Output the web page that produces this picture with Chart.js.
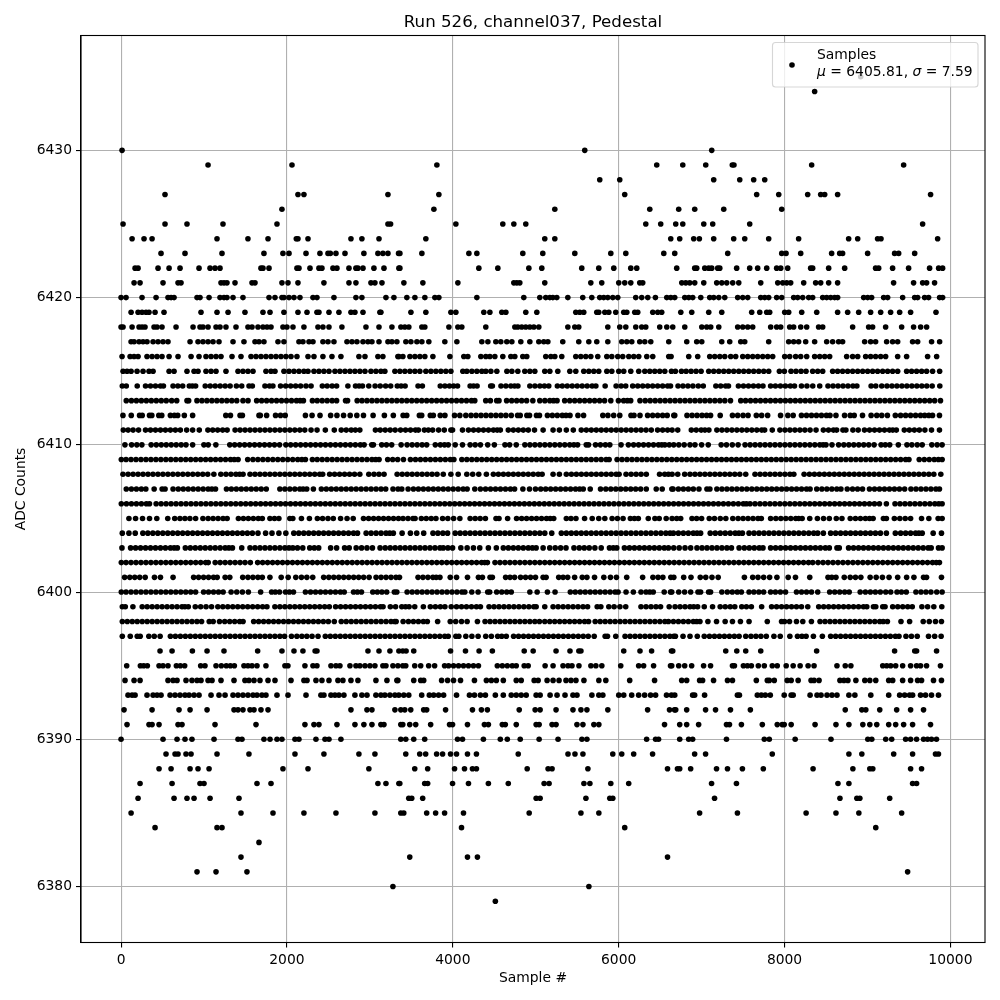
<!DOCTYPE html>
<html>
<head>
<meta charset="utf-8">
<style>
  html, body { margin: 0; padding: 0; background: #fff; }
  canvas { display: block; }
</style>
<script src="https://cdn.jsdelivr.net/npm/chart.js@4/dist/chart.umd.min.js"></script>
</head>
<body>
<canvas id="chart" width="1000" height="1000"></canvas>
<script>
// sample numbers, one list per ADC level
const s6435 = [8918];
const s6434 = [8363];
const s6430 = [12, 5591, 7122];
const s6429 = [1049, 2061, 3808, 6459, 6773, 7050, 7370, 7390, 8327, 9436];
const s6428 = [5772, 6013, 7146, 7460, 7628, 7761];
const s6427 = [530, 2133, 2205, 3218, 3832, 6073, 7664, 7930, 8279, 8436, 8484, 8640, 9761];
const s6426 = [1940, 3772, 5230, 6375, 6724, 6917, 7267, 7966];
const s6425 = [24, 530, 795, 1229, 1880, 3218, 3250, 4037, 4603, 4736, 4880, 6327, 6507, 6688, 6773, 7026, 7134, 7580, 9665];
const s6424 = [133, 277, 374, 1157, 1530, 1772, 2113, 2133, 2254, 2772, 2904, 3110, 3675, 5109, 5230, 6628, 6736, 6905, 6973, 7146, 7387, 7520, 7809, 8170, 8773, 8882, 9122, 9163, 9846];
const s6423 = [482, 771, 1217, 1723, 1952, 2025, 2230, 2398, 2495, 2523, 2591, 2700, 2928, 3097, 3157, 3218, 3346, 3362, 3627, 4194, 4290, 4844, 5085, 5471, 5905, 6086, 6544, 6676, 7315, 7966, 8018, 8195, 8568, 8665, 8700, 9002, 9327, 9376, 9569];
const s6422 = [169, 205, 446, 579, 711, 940, 1073, 1133, 1193, 1687, 1711, 1784, 2121, 2145, 2278, 2386, 2422, 2555, 2603, 2748, 2832, 2856, 2917, 3049, 3170, 3350, 3362, 4314, 4543, 4917, 5073, 5555, 5760, 5941, 6146, 6218, 6700, 6917, 6941, 7038, 7086, 7122, 7194, 7219, 7423, 7580, 7676, 7785, 7905, 7954, 8038, 8315, 8339, 8532, 8725, 9098, 9135, 9303, 9496, 9749, 9858, 9906];
const s6421 = [157, 229, 506, 687, 723, 1205, 1241, 1277, 1374, 1579, 1615, 1940, 2013, 2133, 2446, 2748, 2832, 3013, 3061, 3146, 3410, 3639, 4061, 4736, 4772, 4808, 5109, 5664, 5796, 6001, 6073, 6146, 6254, 6290, 6761, 6809, 6857, 6917, 7026, 7182, 7243, 7303, 7375, 7448, 7713, 7918, 7978, 8026, 8074, 8231, 8375, 8436, 8532, 8640, 9315, 9556, 9665, 9713, 9809];
const s6420 = [0, 60, 253, 422, 566, 603, 639, 916, 952, 1061, 1193, 1241, 1277, 1350, 1470, 1784, 1856, 1940, 1964, 2025, 2085, 2157, 2314, 2362, 2567, 2832, 2904, 3194, 3290, 3446, 3543, 3663, 3784, 3832, 4290, 4856, 5049, 5121, 5170, 5206, 5254, 5387, 5567, 5676, 5772, 5820, 5869, 5929, 5989, 6206, 6278, 6351, 6443, 6580, 6628, 6676, 6797, 6845, 6893, 6990, 7098, 7146, 7207, 7279, 7435, 7496, 7556, 7713, 7761, 7809, 7905, 7966, 8110, 8158, 8219, 8291, 8339, 8460, 8508, 8556, 8604, 8640, 8954, 9002, 9050, 9195, 9243, 9424, 9569, 9605, 9689, 9737, 9870, 9906];
const s6419 = [121, 205, 253, 301, 337, 410, 518, 964, 1157, 1290, 1494, 1711, 1796, 1964, 2133, 2242, 2362, 2386, 2507, 2627, 2772, 2820, 2917, 3121, 3133, 3495, 3675, 3977, 4037, 4374, 4447, 4591, 4640, 4880, 5013, 5483, 5531, 5579, 5736, 5760, 5833, 5881, 5965, 6061, 6098, 6194, 6230, 6411, 6471, 6519, 6749, 6881, 7086, 7243, 7604, 7701, 7785, 7821, 8002, 8050, 8207, 8388, 8640, 8761, 8894, 9038, 9159, 9279, 9388, 9520, 9826];
const s6418 = [0, 24, 133, 217, 253, 289, 398, 434, 494, 663, 868, 952, 988, 1049, 1145, 1193, 1265, 1386, 1530, 1579, 1651, 1711, 1760, 1808, 1952, 2000, 2073, 2205, 2374, 2434, 2507, 2663, 2953, 3110, 3266, 3374, 3422, 3470, 3627, 3663, 3953, 4061, 4109, 4398, 4748, 4784, 4832, 4880, 4929, 4977, 5037, 5387, 5471, 5519, 5869, 6013, 6086, 6206, 6278, 6327, 6495, 6580, 6652, 6797, 7002, 7062, 7110, 7207, 7435, 7496, 7556, 7616, 7833, 7905, 7954, 8062, 8110, 8195, 8267, 8411, 8460, 8821, 9014, 9062, 9219, 9412, 9556, 9641, 9713];
const s6417 = [121, 157, 217, 265, 313, 386, 446, 506, 566, 832, 928, 988, 1049, 1109, 1181, 1350, 1482, 1615, 1663, 1723, 1892, 1964, 2145, 2193, 2266, 2314, 2434, 2495, 2567, 2724, 2784, 2844, 2917, 2977, 3025, 3110, 3218, 3266, 3326, 3434, 3495, 3567, 3627, 3711, 3904, 4049, 4350, 4423, 4519, 4579, 4651, 4712, 4820, 4929, 5037, 5097, 5146, 5326, 5519, 5640, 5736, 5869, 6037, 6098, 6158, 6254, 6315, 6387, 6604, 6821, 6941, 7002, 7243, 7339, 7472, 7520, 7809, 8050, 8110, 8170, 8255, 8363, 8508, 8580, 8652, 8700, 8966, 9038, 9098, 9231, 9303, 9364, 9544, 9605, 9773, 9870];
const s6416 = [12, 109, 157, 205, 313, 374, 434, 494, 579, 687, 844, 940, 1024, 1085, 1145, 1205, 1338, 1446, 1567, 1627, 1687, 1747, 1808, 1868, 1928, 1988, 2049, 2121, 2254, 2326, 2434, 2543, 2651, 2868, 2941, 3097, 3157, 3338, 3350, 3398, 3483, 3543, 3603, 3663, 3760, 3965, 4133, 4181, 4338, 4398, 4447, 4507, 4603, 4700, 4748, 4844, 4892, 5121, 5182, 5230, 5314, 5483, 5543, 5603, 5664, 5748, 5857, 5917, 5989, 6049, 6122, 6182, 6242, 6339, 6411, 6604, 6632, 6845, 6953, 7098, 7158, 7219, 7279, 7351, 7411, 7496, 7556, 7616, 7676, 7737, 7797, 7857, 8002, 8062, 8134, 8195, 8267, 8363, 8424, 8484, 8544, 8749, 8821, 8882, 8978, 9038, 9098, 9159, 9219, 9364, 9472, 9725, 9834];
const s6415 = [24, 72, 121, 193, 265, 337, 386, 579, 639, 795, 880, 928, 1024, 1085, 1145, 1265, 1410, 1470, 1530, 1591, 1747, 1808, 1856, 1964, 2025, 2085, 2145, 2205, 2254, 2326, 2386, 2446, 2507, 2579, 2639, 2700, 2760, 2820, 2880, 2941, 3013, 3073, 3133, 3181, 3302, 3362, 3422, 3483, 3543, 3603, 3675, 3736, 3796, 3856, 3916, 3977, 4121, 4169, 4230, 4290, 4350, 4398, 4459, 4531, 4652, 4712, 4784, 4868, 4929, 4989, 5109, 5170, 5266, 5411, 5483, 5579, 5640, 5700, 5760, 5857, 5917, 6001, 6061, 6146, 6242, 6315, 6375, 6435, 6495, 6556, 6636, 6684, 6757, 6813, 6873, 6933, 6994, 7086, 7146, 7207, 7267, 7327, 7387, 7448, 7508, 7568, 7628, 7689, 7749, 7809, 7938, 7998, 8078, 8138, 8199, 8259, 8339, 8400, 8460, 8580, 8640, 8700, 8761, 8821, 8882, 8942, 9002, 9062, 9122, 9183, 9243, 9303, 9364, 9472, 9532, 9592, 9653, 9713, 9785, 9870];
const s6414 = [15, 63, 195, 295, 355, 415, 475, 511, 627, 685, 743, 823, 860, 899, 1015, 1075, 1135, 1195, 1255, 1315, 1391, 1455, 1543, 1583, 1735, 1790, 1831, 1923, 1985, 2045, 2105, 2165, 2230, 2291, 2427, 2485, 2545, 2599, 2735, 2827, 2870, 2911, 2987, 3063, 3125, 3190, 3251, 3331, 3377, 3425, 3581, 3633, 3849, 3905, 3960, 4010, 4057, 4209, 4250, 4293, 4457, 4477, 4581, 4640, 4700, 4745, 4785, 4929, 4990, 5050, 5105, 5157, 5261, 5320, 5380, 5440, 5500, 5560, 5620, 5680, 5725, 5837, 5969, 6030, 6085, 6169, 6230, 6290, 6350, 6410, 6470, 6530, 6590, 6625, 6716, 6775, 6835, 6895, 6960, 7020, 7172, 7230, 7290, 7324, 7444, 7505, 7565, 7625, 7685, 7740, 7832, 7890, 7950, 8010, 8070, 8120, 8204, 8270, 8340, 8424, 8524, 8585, 8645, 8705, 8765, 8825, 8872, 9044, 9100, 9172, 9235, 9295, 9355, 9415, 9475, 9535, 9595, 9655, 9715, 9780, 9872];
const s6413 = [63, 125, 185, 245, 305, 365, 425, 485, 545, 610, 671, 795, 815, 915, 975, 1035, 1095, 1155, 1215, 1275, 1335, 1395, 1470, 1531, 1635, 1695, 1755, 1815, 1875, 1935, 1995, 2055, 2115, 2160, 2199, 2307, 2365, 2425, 2485, 2545, 2599, 2707, 2731, 2847, 2905, 2965, 3025, 3085, 3145, 3205, 3265, 3325, 3385, 3445, 3505, 3565, 3625, 3685, 3745, 3805, 3865, 3925, 3985, 4045, 4105, 4165, 4225, 4265, 4397, 4453, 4529, 4557, 4649, 4710, 4770, 4830, 4890, 4965, 5049, 5110, 5170, 5215, 5257, 5349, 5410, 5470, 5530, 5590, 5650, 5710, 5770, 5830, 5905, 5997, 6060, 6105, 6145, 6257, 6320, 6380, 6440, 6500, 6560, 6620, 6680, 6740, 6800, 6860, 6920, 6980, 7040, 7100, 7160, 7220, 7280, 7348, 7472, 7530, 7590, 7650, 7710, 7770, 7830, 7890, 7950, 8010, 8070, 8130, 8190, 8250, 8310, 8370, 8430, 8490, 8550, 8610, 8670, 8730, 8790, 8850, 8910, 8970, 9030, 9090, 9150, 9210, 9270, 9330, 9390, 9450, 9510, 9570, 9630, 9690, 9750, 9810, 9880];
const s6412 = [23, 123, 223, 255, 343, 371, 455, 491, 595, 643, 683, 763, 863, 1263, 1319, 1435, 1463, 1663, 1679, 1755, 1863, 1923, 1979, 2223, 2303, 2399, 2527, 2603, 2683, 2763, 2843, 2923, 3039, 3175, 3283, 3401, 3445, 3597, 3625, 3729, 3765, 3849, 3905, 4021, 4085, 4157, 4220, 4280, 4340, 4400, 4460, 4520, 4580, 4640, 4705, 4781, 4813, 4893, 4925, 5009, 5045, 5141, 5200, 5260, 5320, 5365, 5413, 5509, 5577, 5809, 5870, 5940, 6013, 6149, 6185, 6257, 6349, 6410, 6470, 6530, 6585, 6665, 6676, 6824, 6885, 6945, 7005, 7060, 7108, 7224, 7372, 7435, 7500, 7560, 7660, 7724, 7796, 7952, 8040, 8104, 8204, 8265, 8325, 8385, 8445, 8505, 8548, 8620, 8724, 8792, 8840, 8940, 9044, 9112, 9172, 9240, 9336, 9400, 9460, 9520, 9580, 9640, 9690, 9740, 9784, 9868];
const s6411 = [27, 85, 145, 211, 295, 355, 415, 475, 535, 595, 655, 715, 791, 863, 943, 1047, 1105, 1165, 1225, 1279, 1375, 1435, 1495, 1555, 1615, 1675, 1735, 1795, 1855, 1915, 1975, 2035, 2095, 2155, 2215, 2291, 2363, 2463, 2571, 2655, 2715, 2775, 2825, 2879, 3067, 3125, 3185, 3245, 3305, 3370, 3430, 3490, 3550, 3585, 3657, 3705, 3757, 3829, 3897, 3977, 3997, 4117, 4189, 4250, 4310, 4370, 4430, 4490, 4535, 4573, 4669, 4730, 4790, 4850, 4910, 4985, 5089, 5209, 5285, 5369, 5453, 5549, 5610, 5670, 5730, 5790, 5850, 5910, 5970, 6030, 6090, 6150, 6210, 6270, 6330, 6393, 6469, 6530, 6590, 6644, 6712, 6876, 6935, 6995, 7040, 7088, 7184, 7245, 7305, 7365, 7425, 7485, 7545, 7605, 7665, 7725, 7760, 7852, 7944, 8005, 8065, 8125, 8185, 8245, 8308, 8380, 8468, 8530, 8590, 8628, 8704, 8740, 8824, 8888, 8964, 9025, 9085, 9145, 9205, 9265, 9305, 9348, 9444, 9505, 9565, 9625, 9692, 9772, 9868];
const s6410 = [47, 127, 190, 251, 363, 425, 485, 545, 605, 665, 725, 783, 863, 999, 1051, 1143, 1311, 1370, 1430, 1490, 1550, 1610, 1670, 1730, 1790, 1850, 1911, 1987, 2045, 2105, 2165, 2225, 2285, 2345, 2405, 2465, 2525, 2585, 2645, 2705, 2765, 2825, 2885, 2931, 3023, 3043, 3143, 3200, 3263, 3377, 3449, 3510, 3570, 3630, 3685, 3789, 3850, 3900, 3945, 4029, 4117, 4209, 4270, 4333, 4421, 4501, 4629, 4685, 4765, 4869, 4930, 4990, 5050, 5110, 5170, 5230, 5290, 5350, 5410, 5460, 5505, 5609, 5637, 5721, 5780, 5840, 5893, 6029, 6117, 6180, 6240, 6300, 6360, 6420, 6480, 6520, 6557, 6610, 6664, 6725, 6790, 6860, 6920, 7000, 7080, 7236, 7300, 7370, 7440, 7524, 7585, 7645, 7705, 7765, 7825, 7885, 7945, 8005, 8065, 8125, 8185, 8245, 8305, 8365, 8425, 8465, 8500, 8572, 8652, 8715, 8775, 8835, 8895, 8955, 9015, 9080, 9164, 9215, 9268, 9372, 9476, 9535, 9600, 9660, 9776, 9840, 9900];
const s6409 = [3, 60, 120, 180, 240, 300, 360, 420, 480, 540, 600, 660, 720, 780, 840, 900, 960, 1020, 1080, 1140, 1200, 1260, 1320, 1365, 1411, 1527, 1590, 1650, 1710, 1770, 1830, 1890, 1950, 2010, 2070, 2130, 2180, 2223, 2307, 2365, 2425, 2485, 2545, 2605, 2665, 2725, 2785, 2845, 2905, 2965, 3025, 3070, 3111, 3215, 3275, 3335, 3405, 3489, 3550, 3610, 3670, 3730, 3790, 3850, 3910, 3970, 4013, 4109, 4169, 4229, 4289, 4349, 4409, 4469, 4529, 4589, 4649, 4709, 4769, 4829, 4889, 4949, 5009, 5069, 5129, 5189, 5249, 5309, 5369, 5429, 5489, 5549, 5609, 5669, 5729, 5789, 5849, 5885, 5981, 6040, 6100, 6160, 6220, 6280, 6340, 6400, 6460, 6520, 6580, 6640, 6700, 6760, 6820, 6880, 6940, 7000, 7060, 7120, 7180, 7240, 7300, 7360, 7420, 7480, 7540, 7600, 7660, 7720, 7780, 7840, 7900, 7960, 8020, 8080, 8140, 8200, 8260, 8320, 8380, 8440, 8500, 8560, 8620, 8680, 8740, 8800, 8860, 8920, 8980, 9040, 9100, 9160, 9220, 9280, 9340, 9400, 9460, 9500, 9624, 9685, 9745, 9805, 9855, 9900];
const s6408 = [23, 85, 145, 205, 265, 325, 385, 445, 505, 565, 625, 685, 745, 805, 865, 925, 985, 1045, 1119, 1203, 1265, 1325, 1385, 1430, 1471, 1555, 1615, 1675, 1735, 1795, 1855, 1915, 1975, 2035, 2095, 2155, 2215, 2275, 2335, 2395, 2431, 2515, 2575, 2635, 2695, 2755, 2815, 2879, 2987, 3050, 3110, 3171, 3329, 3390, 3450, 3510, 3570, 3630, 3690, 3750, 3810, 3885, 3977, 4065, 4169, 4240, 4313, 4405, 4489, 4550, 4610, 4670, 4730, 4790, 4850, 4910, 4970, 5030, 5077, 5209, 5285, 5369, 5430, 5490, 5550, 5610, 5670, 5730, 5790, 5850, 5910, 5970, 6005, 6089, 6150, 6210, 6270, 6333, 6493, 6555, 6600, 6644, 6712, 6796, 6860, 6920, 6980, 7040, 7100, 7160, 7220, 7280, 7340, 7400, 7460, 7532, 7644, 7705, 7765, 7825, 7885, 7945, 8005, 8065, 8112, 8236, 8300, 8360, 8420, 8480, 8540, 8600, 8660, 8720, 8780, 8840, 8900, 8960, 9020, 9080, 9140, 9200, 9260, 9320, 9380, 9440, 9500, 9560, 9620, 9680, 9740, 9800, 9884];
const s6407 = [63, 125, 185, 245, 299, 399, 495, 531, 627, 690, 750, 810, 870, 930, 990, 1050, 1095, 1139, 1271, 1330, 1390, 1450, 1510, 1570, 1630, 1690, 1751, 1915, 1975, 2035, 2095, 2155, 2195, 2239, 2319, 2415, 2475, 2535, 2595, 2655, 2715, 2775, 2835, 2895, 2955, 3015, 3075, 3135, 3191, 3279, 3340, 3385, 3461, 3525, 3585, 3645, 3705, 3765, 3825, 3885, 3945, 4005, 4065, 4125, 4173, 4265, 4333, 4395, 4455, 4515, 4575, 4635, 4695, 4745, 4845, 4925, 4997, 5060, 5120, 5180, 5240, 5300, 5360, 5420, 5480, 5530, 5573, 5657, 5781, 5845, 5905, 5965, 6025, 6085, 6145, 6205, 6265, 6333, 6453, 6525, 6641, 6656, 6720, 6780, 6840, 6900, 6968, 7064, 7100, 7184, 7245, 7305, 7365, 7425, 7485, 7545, 7605, 7665, 7725, 7785, 7845, 7905, 7965, 8025, 8085, 8145, 8205, 8265, 8308, 8388, 8450, 8510, 8570, 8630, 8680, 8756, 8820, 8880, 8940, 9024, 9085, 9145, 9205, 9265, 9325, 9385, 9448, 9524, 9585, 9645, 9705, 9765, 9825, 9868];
const s6406 = [3, 65, 125, 185, 245, 305, 343, 423, 483, 543, 603, 663, 723, 783, 843, 903, 963, 1023, 1083, 1143, 1203, 1263, 1323, 1383, 1443, 1503, 1563, 1623, 1683, 1743, 1803, 1863, 1923, 1983, 2043, 2103, 2163, 2223, 2283, 2343, 2403, 2463, 2523, 2583, 2643, 2703, 2763, 2823, 2883, 2943, 3003, 3063, 3123, 3183, 3243, 3303, 3363, 3423, 3483, 3543, 3603, 3663, 3723, 3783, 3843, 3903, 3963, 4023, 4083, 4143, 4203, 4263, 4323, 4383, 4443, 4503, 4563, 4623, 4683, 4743, 4803, 4863, 4923, 4983, 5043, 5103, 5163, 5223, 5283, 5343, 5403, 5463, 5523, 5583, 5643, 5703, 5763, 5823, 5883, 5943, 6003, 6063, 6123, 6183, 6243, 6303, 6363, 6423, 6483, 6543, 6603, 6663, 6723, 6783, 6843, 6903, 6963, 7023, 7083, 7143, 7203, 7263, 7323, 7383, 7443, 7503, 7540, 7584, 7644, 7704, 7764, 7824, 7884, 7944, 8004, 8064, 8124, 8184, 8244, 8304, 8364, 8424, 8484, 8544, 8604, 8664, 8724, 8784, 8844, 8904, 8964, 9024, 9084, 9144, 9228, 9332, 9392, 9452, 9512, 9572, 9632, 9692, 9752, 9812, 9860, 9900];
const s6405 = [95, 175, 259, 343, 431, 563, 647, 710, 770, 830, 899, 987, 1050, 1110, 1170, 1230, 1279, 1415, 1475, 1535, 1595, 1655, 1703, 1795, 1850, 1903, 2035, 2071, 2175, 2271, 2367, 2430, 2495, 2559, 2647, 2725, 2799, 2923, 2985, 3045, 3105, 3165, 3225, 3285, 3345, 3400, 3460, 3520, 3545, 3621, 3680, 3740, 3797, 3877, 3940, 4010, 4085, 4209, 4270, 4330, 4393, 4521, 4557, 4661, 4769, 4830, 4890, 4950, 5010, 5070, 5130, 5175, 5217, 5369, 5425, 5485, 5589, 5681, 5760, 5833, 5921, 5985, 6053, 6141, 6190, 6237, 6357, 6437, 6489, 6573, 6644, 6700, 6748, 6884, 6940, 7000, 7092, 7155, 7225, 7292, 7376, 7440, 7500, 7560, 7620, 7680, 7720, 7832, 7895, 7955, 8015, 8075, 8135, 8170, 8212, 8304, 8396, 8470, 8540, 8624, 8692, 8792, 8855, 8915, 8975, 9025, 9068, 9192, 9228, 9324, 9390, 9455, 9520, 9652, 9740, 9852, 9900];
const s6404 = [15, 95, 171, 263, 323, 383, 443, 503, 563, 623, 683, 743, 803, 863, 923, 983, 1043, 1103, 1163, 1223, 1283, 1343, 1403, 1463, 1523, 1583, 1651, 1743, 1820, 1903, 1987, 2083, 2143, 2203, 2263, 2323, 2383, 2443, 2503, 2563, 2623, 2683, 2743, 2803, 2851, 2955, 3015, 3075, 3135, 3195, 3240, 3283, 3389, 3489, 3565, 3649, 3761, 3820, 3880, 3937, 4029, 4089, 4149, 4209, 4269, 4329, 4389, 4449, 4509, 4569, 4629, 4689, 4749, 4809, 4869, 4929, 4989, 5049, 5109, 5193, 5309, 5369, 5429, 5489, 5549, 5609, 5669, 5729, 5789, 5849, 5909, 5969, 6029, 6089, 6149, 6209, 6269, 6329, 6389, 6449, 6509, 6569, 6620, 6660, 6720, 6780, 6840, 6900, 6945, 6988, 7104, 7165, 7225, 7285, 7345, 7405, 7450, 7492, 7572, 7632, 7692, 7752, 7812, 7872, 7932, 7992, 8052, 8112, 8172, 8232, 8292, 8352, 8400, 8468, 8556, 8616, 8676, 8736, 8796, 8856, 8916, 8976, 9036, 9096, 9156, 9228, 9336, 9400, 9460, 9520, 9580, 9620, 9660, 9792, 9892];
const s6403 = [11, 115, 175, 235, 295, 355, 415, 475, 535, 595, 640, 679, 775, 835, 895, 955, 1015, 1075, 1135, 1195, 1255, 1300, 1343, 1455, 1555, 1615, 1675, 1735, 1795, 1855, 1915, 1975, 2025, 2071, 2127, 2191, 2275, 2330, 2383, 2527, 2599, 2695, 2751, 2835, 2900, 2965, 3031, 3123, 3185, 3245, 3305, 3365, 3425, 3485, 3545, 3605, 3665, 3725, 3785, 3845, 3885, 3941, 3997, 4097, 4173, 4249, 4325, 4429, 4525, 4609, 4670, 4730, 4790, 4850, 4910, 4960, 5005, 5089, 5169, 5235, 5300, 5365, 5461, 5525, 5585, 5645, 5713, 5789, 5889, 5935, 5977, 6069, 6130, 6190, 6250, 6310, 6370, 6430, 6490, 6550, 6600, 6664, 6730, 6800, 6868, 6944, 7005, 7065, 7125, 7185, 7245, 7305, 7360, 7452, 7515, 7575, 7635, 7695, 7740, 7832, 7892, 7952, 8012, 8072, 8132, 8192, 8252, 8312, 8372, 8432, 8492, 8540, 8632, 8660, 8772, 8832, 8892, 8952, 9012, 9072, 9132, 9192, 9252, 9312, 9372, 9432, 9492, 9552, 9612, 9672, 9732, 9768, 9856, 9900];
const s6402 = [3, 60, 120, 180, 240, 300, 360, 420, 480, 540, 600, 660, 720, 780, 840, 900, 960, 1020, 1051, 1135, 1195, 1255, 1315, 1375, 1435, 1495, 1559, 1647, 1707, 1767, 1827, 1887, 1947, 2007, 2067, 2127, 2187, 2247, 2307, 2367, 2427, 2487, 2547, 2607, 2667, 2727, 2787, 2847, 2907, 2967, 3027, 3087, 3147, 3207, 3267, 3327, 3387, 3447, 3507, 3567, 3627, 3687, 3747, 3807, 3867, 3927, 3987, 4047, 4107, 4167, 4227, 4287, 4347, 4385, 4417, 4509, 4569, 4629, 4689, 4749, 4809, 4869, 4929, 4989, 5049, 5109, 5169, 5229, 5289, 5349, 5409, 5469, 5529, 5589, 5649, 5709, 5769, 5829, 5889, 5949, 6009, 6069, 6129, 6189, 6249, 6309, 6369, 6429, 6489, 6549, 6609, 6669, 6729, 6789, 6849, 6909, 6969, 7029, 7089, 7149, 7209, 7269, 7329, 7389, 7449, 7509, 7569, 7629, 7689, 7749, 7809, 7869, 7929, 7989, 8049, 8109, 8169, 8229, 8289, 8340, 8404, 8464, 8524, 8584, 8644, 8704, 8764, 8824, 8884, 8944, 9004, 9064, 9124, 9184, 9244, 9304, 9364, 9424, 9484, 9544, 9604, 9664, 9724, 9784, 9830, 9868];
const s6401 = [43, 105, 165, 225, 291, 403, 475, 627, 875, 935, 995, 1055, 1115, 1159, 1255, 1311, 1467, 1530, 1590, 1650, 1703, 1795, 1931, 2015, 2107, 2175, 2240, 2311, 2443, 2505, 2565, 2625, 2685, 2745, 2805, 2865, 2925, 2991, 3075, 3135, 3195, 3255, 3315, 3357, 3581, 3640, 3700, 3760, 3800, 3845, 3969, 4045, 4177, 4309, 4357, 4449, 4477, 4637, 4690, 4745, 4817, 4877, 4937, 4997, 5089, 5125, 5277, 5330, 5385, 5469, 5561, 5617, 5709, 5821, 5901, 5973, 6097, 6289, 6413, 6475, 6533, 6629, 6665, 6784, 6872, 6984, 7050, 7125, 7200, 7516, 7616, 7680, 7748, 7820, 7908, 8044, 8132, 8304, 8524, 8570, 8620, 8720, 8792, 8855, 8920, 9032, 9105, 9180, 9260, 9364, 9472, 9560, 9676, 9712, 9892];
const s6400 = [3, 60, 120, 180, 240, 300, 360, 420, 480, 540, 600, 660, 720, 780, 840, 899, 995, 1055, 1115, 1175, 1231, 1327, 1395, 1463, 1535, 1683, 1815, 1860, 1911, 1983, 2030, 2079, 2223, 2285, 2345, 2405, 2465, 2525, 2585, 2645, 2691, 2803, 2850, 2899, 3035, 3090, 3145, 3203, 3295, 3325, 3449, 3510, 3570, 3630, 3690, 3750, 3810, 3870, 3930, 3990, 4050, 4110, 4145, 4229, 4305, 4421, 4445, 4529, 4590, 4650, 4705, 4929, 5017, 5141, 5233, 5417, 5477, 5537, 5597, 5657, 5717, 5777, 5837, 5897, 5957, 5993, 6089, 6177, 6269, 6330, 6375, 6417, 6549, 6625, 6640, 6724, 6795, 6868, 6956, 6988, 7084, 7108, 7244, 7310, 7370, 7430, 7480, 7572, 7630, 7690, 7748, 7832, 7890, 7950, 8012, 8144, 8205, 8265, 8325, 8400, 8544, 8605, 8665, 8725, 8780, 8912, 8975, 9035, 9095, 9155, 9220, 9280, 9356, 9410, 9468, 9584, 9645, 9705, 9765, 9835, 9900];
const s6399 = [15, 51, 143, 255, 315, 375, 435, 495, 555, 615, 675, 735, 770, 811, 895, 960, 1025, 1091, 1167, 1227, 1287, 1347, 1407, 1467, 1527, 1587, 1647, 1707, 1759, 1855, 1915, 1975, 2035, 2095, 2155, 2215, 2275, 2335, 2395, 2455, 2511, 2587, 2647, 2707, 2767, 2827, 2887, 2947, 3007, 3067, 3127, 3159, 3247, 3310, 3385, 3430, 3473, 3541, 3645, 3729, 3790, 3850, 3905, 3981, 4045, 4105, 4165, 4225, 4285, 4333, 4437, 4497, 4557, 4617, 4677, 4737, 4797, 4857, 4917, 4977, 5005, 5109, 5209, 5270, 5330, 5390, 5450, 5510, 5570, 5625, 5741, 5785, 5881, 5945, 6015, 6085, 6269, 6330, 6390, 6450, 6505, 6609, 6680, 6740, 6800, 6860, 6905, 6952, 7032, 7132, 7224, 7285, 7345, 7400, 7484, 7540, 7600, 7724, 7844, 7904, 7964, 8024, 8084, 8144, 8204, 8280, 8412, 8472, 8532, 8592, 8652, 8712, 8772, 8832, 8892, 8952, 8992, 9072, 9100, 9184, 9212, 9304, 9365, 9425, 9485, 9540, 9656, 9725, 9800, 9896];
const s6398 = [15, 75, 135, 195, 255, 315, 375, 435, 495, 555, 615, 675, 735, 795, 855, 915, 971, 1063, 1111, 1187, 1250, 1310, 1370, 1430, 1471, 1599, 1659, 1719, 1779, 1839, 1899, 1959, 2019, 2079, 2139, 2199, 2259, 2319, 2379, 2439, 2499, 2571, 2655, 2715, 2775, 2835, 2895, 2955, 3015, 3075, 3135, 3195, 3255, 3299, 3317, 3401, 3465, 3525, 3585, 3645, 3693, 3817, 3969, 4035, 4105, 4173, 4297, 4389, 4449, 4509, 4569, 4629, 4689, 4749, 4809, 4869, 4929, 4989, 5045, 5109, 5169, 5229, 5289, 5349, 5409, 5469, 5529, 5589, 5637, 5717, 5777, 5837, 5897, 5957, 6017, 6077, 6137, 6197, 6257, 6317, 6377, 6437, 6497, 6557, 6600, 6660, 6720, 6780, 6840, 6900, 6940, 6980, 7076, 7180, 7284, 7372, 7468, 7572, 7792, 7964, 8000, 8060, 8144, 8220, 8324, 8428, 8488, 8548, 8608, 8668, 8728, 8788, 8848, 8908, 8968, 9028, 9088, 9148, 9190, 9240, 9404, 9508, 9672, 9745, 9820, 9892];
const s6397 = [15, 111, 195, 231, 335, 400, 471, 595, 655, 715, 775, 835, 895, 955, 1015, 1075, 1135, 1195, 1255, 1315, 1375, 1435, 1495, 1555, 1615, 1675, 1735, 1795, 1855, 1915, 1971, 2055, 2120, 2180, 2240, 2303, 2375, 2463, 2523, 2583, 2643, 2703, 2763, 2823, 2883, 2943, 3003, 3063, 3123, 3183, 3243, 3303, 3363, 3423, 3483, 3543, 3603, 3663, 3723, 3783, 3843, 3903, 3945, 4037, 4073, 4157, 4230, 4305, 4397, 4465, 4541, 4590, 4645, 4733, 4793, 4853, 4913, 4973, 5033, 5093, 5153, 5213, 5273, 5333, 5393, 5453, 5513, 5573, 5633, 5705, 5837, 5865, 5965, 6077, 6137, 6197, 6257, 6317, 6377, 6437, 6497, 6557, 6617, 6665, 6684, 6776, 6860, 6948, 7032, 7095, 7155, 7215, 7275, 7335, 7395, 7452, 7532, 7595, 7655, 7715, 7780, 7872, 7948, 8064, 8156, 8210, 8260, 8348, 8456, 8556, 8616, 8676, 8736, 8796, 8856, 8916, 8976, 9036, 9096, 9156, 9216, 9276, 9336, 9380, 9464, 9530, 9600, 9736, 9810, 9888];
const s6396 = [470, 615, 860, 1037, 1241, 1647, 1940, 2085, 2193, 2340, 2362, 2977, 3110, 3242, 3350, 3397, 3437, 3529, 3973, 4153, 4317, 4477, 4861, 4969, 5245, 5413, 5520, 5545, 6061, 6257, 6397, 6637, 6652, 7291, 7424, 7532, 7713, 8387, 9327, 9570, 9592, 9833];
const s6395 = [68, 233, 273, 317, 458, 506, 566, 667, 715, 767, 960, 1012, 1145, 1209, 1269, 1318, 1366, 1482, 1530, 1579, 1639, 1747, 1976, 2012, 2217, 2314, 2362, 2531, 2591, 2639, 2760, 2832, 2880, 2941, 3001, 3061, 3157, 3194, 3278, 3338, 3397, 3433, 3541, 3613, 3709, 3781, 3901, 3949, 4009, 4069, 4129, 4189, 4249, 4309, 4537, 4597, 4657, 4717, 4765, 4861, 4909, 5113, 5209, 5329, 5389, 5437, 5521, 5665, 5725, 5797, 6025, 6241, 6301, 6421, 6625, 6640, 6724, 6796, 6880, 7024, 7108, 7372, 7396, 7504, 7552, 7600, 7684, 7756, 7852, 7912, 8020, 8104, 8188, 8284, 8356, 8632, 8732, 8800, 9184, 9232, 9280, 9340, 9424, 9520, 9592, 9640, 9712, 9880];
const s6394 = [48, 157, 229, 566, 627, 675, 783, 855, 916, 964, 1049, 1097, 1205, 1362, 1494, 1542, 1603, 1675, 1772, 1856, 2049, 2205, 2242, 2350, 2422, 2507, 2615, 2675, 2772, 2856, 3073, 3206, 3326, 3337, 3529, 3613, 3649, 3865, 3937, 4009, 4093, 4261, 4405, 4465, 4525, 4609, 4765, 4825, 4981, 5029, 5137, 5209, 5281, 5365, 5425, 5485, 5581, 5761, 5845, 6133, 6433, 6760, 6820, 6976, 7012, 7144, 7312, 7372, 7660, 7792, 7816, 7876, 8032, 8080, 8164, 8320, 8356, 8416, 8668, 8716, 8764, 8860, 8968, 9028, 9100, 9256, 9304, 9424, 9520, 9604, 9652, 9796, 9892];
const s6393 = [84, 133, 169, 313, 386, 434, 482, 591, 651, 711, 771, 820, 880, 940, 1085, 1181, 1254, 1350, 1410, 1470, 1530, 1591, 1639, 1699, 1747, 1880, 2013, 2230, 2410, 2446, 2531, 2579, 2627, 2687, 2820, 2904, 2965, 3073, 3133, 3181, 3242, 3302, 3349, 3409, 3469, 3625, 3717, 3769, 3829, 3889, 4045, 4201, 4261, 4333, 4393, 4513, 4609, 4705, 4765, 4825, 4885, 5005, 5053, 5173, 5257, 5353, 5449, 5497, 5677, 5761, 5809, 6001, 6061, 6157, 6241, 6313, 6385, 6445, 6577, 6637, 6676, 6892, 6916, 7036, 7432, 7456, 7672, 7720, 7768, 7828, 7996, 8080, 8104, 8308, 8392, 8440, 8512, 8572, 8632, 8776, 8848, 9040, 9256, 9388, 9448, 9508, 9544, 9640, 9700, 9772, 9856];
const s6392 = [36, 374, 699, 832, 1037, 1362, 1410, 1470, 1555, 1603, 1687, 1772, 2772, 2965, 3025, 3302, 3373, 3421, 3493, 3649, 3685, 3913, 4237, 4345, 4417, 4801, 4993, 5053, 5245, 5449, 5545, 5617, 5869, 6349, 6613, 6673, 6688, 6820, 7048, 7168, 7348, 7588, 8732, 8932, 8980, 9148, 9352, 9520, 9676];
const s6391 = [72, 337, 374, 458, 687, 735, 1133, 1627, 2217, 2326, 2386, 2603, 2820, 2928, 3025, 3133, 3170, 3373, 3397, 3481, 3553, 3733, 3961, 3997, 4177, 4381, 4429, 4597, 4633, 4765, 5005, 5041, 5197, 5245, 5497, 5569, 5701, 5761, 6553, 6736, 6820, 6964, 7300, 7336, 7480, 7732, 7912, 7972, 7996, 8080, 8368, 8620, 8776, 8944, 9028, 9112, 9256, 9340, 9436, 9544, 9760];
const s6390 = [0, 506, 675, 771, 855, 1121, 1410, 1458, 1723, 1796, 1880, 1940, 2097, 2145, 2350, 2459, 2507, 2651, 3373, 3433, 3529, 3661, 4057, 4117, 4369, 4573, 4657, 4813, 5041, 5269, 5557, 5617, 6337, 6445, 6481, 6736, 6844, 6892, 7300, 7756, 7816, 8128, 8560, 9004, 9052, 9220, 9292, 9460, 9520, 9592, 9676, 9724, 9772, 9832];
const s6389 = [542, 651, 687, 783, 844, 1157, 1542, 2097, 2446, 2868, 3061, 3433, 3601, 3673, 3805, 3877, 3973, 4045, 4177, 4285, 4789, 5389, 5473, 5569, 5929, 6037, 6181, 6409, 6916, 7048, 7852, 8776, 8932, 9316, 9544, 9820, 9856];
const s6388 = [458, 603, 832, 928, 1061, 1952, 2254, 2988, 3541, 3697, 4021, 4141, 4237, 4285, 4897, 5149, 5197, 5629, 6589, 6709, 6736, 6868, 7180, 7312, 7492, 7744, 8344, 8824, 9028, 9064, 9520, 9652];
const s6387 = [229, 615, 952, 1000, 1639, 1808, 3097, 3194, 3350, 3361, 3661, 3697, 3997, 4189, 4429, 4669, 5101, 5161, 5581, 5653, 5905, 6121, 7120, 7420, 8644, 8776, 9544, 9592];
const s6386 = [205, 639, 795, 880, 1073, 1422, 3469, 3505, 3637, 5005, 5053, 5605, 5893, 5929, 7156, 8668, 8872, 8908, 9268];
const s6385 = [121, 1446, 1832, 2205, 2591, 3061, 3373, 3409, 3685, 3793, 3901, 4129, 4921, 5545, 5761, 6976, 7432, 8260, 8620, 8896, 9412];
const s6384 = [410, 1157, 1217, 4105, 6073, 9100];
const s6383 = [1663];
const s6382 = [1446, 3481, 4177, 4297, 6589];
const s6381 = [916, 1145, 1518, 9484];
const s6380 = [3278, 5641];
const s6379 = [4513];

const samplesByLevel = {
  6435: s6435, 6434: s6434, 6430: s6430, 6429: s6429, 6428: s6428, 6427: s6427, 6426: s6426, 6425: s6425,
  6424: s6424, 6423: s6423, 6422: s6422, 6421: s6421, 6420: s6420, 6419: s6419, 6418: s6418, 6417: s6417,
  6416: s6416, 6415: s6415, 6414: s6414, 6413: s6413, 6412: s6412, 6411: s6411, 6410: s6410, 6409: s6409,
  6408: s6408, 6407: s6407, 6406: s6406, 6405: s6405, 6404: s6404, 6403: s6403, 6402: s6402, 6401: s6401,
  6400: s6400, 6399: s6399, 6398: s6398, 6397: s6397, 6396: s6396, 6395: s6395, 6394: s6394, 6393: s6393,
  6392: s6392, 6391: s6391, 6390: s6390, 6389: s6389, 6388: s6388, 6387: s6387, 6386: s6386, 6385: s6385,
  6384: s6384, 6383: s6383, 6382: s6382, 6381: s6381, 6380: s6380, 6379: s6379
};

const xTicks = [0, 2000, 4000, 6000, 8000, 10000];
const yTicks = [6380, 6390, 6400, 6410, 6420, 6430];
const titleText = 'Run 526, channel037, Pedestal';
const seriesName = 'Samples';

const fontName = '"DejaVu Sans"';
const points = [];
for (const level in samplesByLevel) {
  samplesByLevel[level].forEach(s => points.push({ x: s, y: Number(level) }));
}

// top/right spines plus the matplotlib style legend box
const frameAndLegend = {
  id: 'frameAndLegend',
  afterDraw(chart) {
    const ctx = chart.ctx;
    const a = chart.chartArea;
    ctx.save();

    ctx.strokeStyle = '#000';
    ctx.lineWidth = 1.1;
    ctx.strokeRect(a.left, a.top, a.right - a.left, a.bottom - a.top);

    ctx.beginPath();
    ctx.roundRect(772.5, 42.5, 205.5, 44.5, 3);
    ctx.fillStyle = 'rgba(255,255,255,0.8)';
    ctx.fill();
    ctx.strokeStyle = 'rgba(204,204,204,0.8)';
    ctx.lineWidth = 1.1;
    ctx.stroke();

    ctx.fillStyle = '#000';
    ctx.beginPath();
    ctx.arc(792, 65, 2.8, 0, Math.PI * 2);
    ctx.fill();

    ctx.textBaseline = 'alphabetic';
    ctx.textAlign = 'left';
    ctx.font = '13.89px ' + fontName;
    ctx.fillText(seriesName, 817, 59);

    // second line mixes italic greek with upright numbers
    const parts = [
      ['italic', '\u03bc'], ['', ' = 6405.81, '], ['italic', '\u03c3'], ['', ' = 7.59']
    ];
    let x = 817;
    parts.forEach(p => {
      ctx.font = (p[0] ? p[0] + ' ' : '') + '13.89px ' + fontName;
      ctx.fillText(p[1], x, 76);
      x += ctx.measureText(p[1]).width;
    });
    ctx.restore();
  }
};

new Chart(document.getElementById('chart'), {
  type: 'scatter',
  data: {
    datasets: [{
      label: seriesName,
      data: points,
      backgroundColor: '#000',
      borderWidth: 0,
      pointRadius: 2.8,
      pointHoverRadius: 2.8
    }]
  },
  plugins: [frameAndLegend],
  options: {
    responsive: false,
    animation: false,
    layout: { padding: { left: 0, right: 15, top: 0, bottom: 0 } },
    plugins: {
      legend: { display: false },
      tooltip: { enabled: false },
      title: {
        display: true,
        text: titleText,
        color: '#000',
        fullSize: false,
        font: { family: fontName, size: 16.67, weight: 'normal' },
        padding: { top: 12.5, bottom: 3 }
      }
    },
    scales: {
      x: {
        type: 'linear',
        min: -483,
        max: 10417,
        afterFit(scale) { scale.height = 57.5; },
        afterBuildTicks(scale) { scale.ticks = xTicks.map(v => ({ value: v })); },
        border: { color: '#000', width: 1.1 },
        grid: { color: '#b0b0b0', lineWidth: 1.1, tickColor: '#000', tickLength: 5 },
        ticks: {
          color: '#000',
          padding: 4.5,
          maxRotation: 0,
          font: { family: fontName, size: 13.89 },
          callback: v => String(v)
        },
        title: {
          display: true,
          text: 'Sample #',
          color: '#000',
          font: { family: fontName, size: 13.89 },
          padding: { top: 0, bottom: 13.5 }
        }
      },
      y: {
        type: 'linear',
        min: 6376.2,
        max: 6437.8,
        afterFit(scale) { scale.width = 81; },
        afterBuildTicks(scale) { scale.ticks = yTicks.map(v => ({ value: v })); },
        border: { color: '#000', width: 1.1 },
        grid: { color: '#b0b0b0', lineWidth: 1.1, tickColor: '#000', tickLength: 5 },
        ticks: {
          color: '#000',
          padding: 4,
          font: { family: fontName, size: 13.89 },
          callback: v => String(v)
        },
        title: {
          display: true,
          text: 'ADC Counts',
          color: '#000',
          font: { family: fontName, size: 13.89 },
          padding: { top: 13, bottom: 0 }
        }
      }
    }
  }
});
</script>
</body>
</html>
